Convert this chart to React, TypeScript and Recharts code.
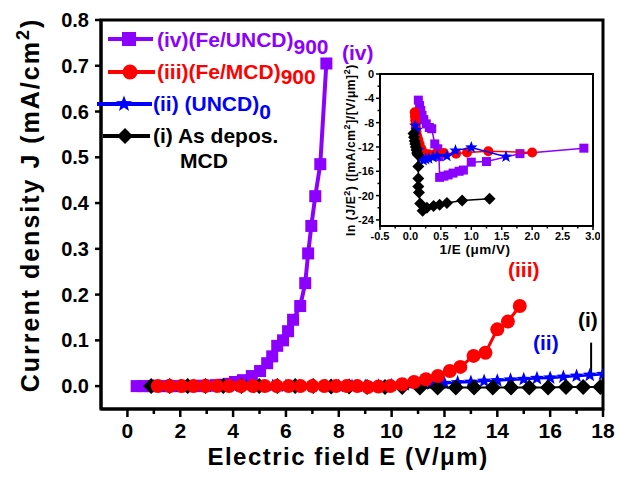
import React from 'react';
import { ScatterChart, Scatter, XAxis, YAxis, ReferenceArea, ReferenceLine } from 'recharts';

const FONT = '"Liberation Sans", Arial, Helvetica, sans-serif';
const PURPLE = '#8B00FF';
const RED = '#FF0000';
const BLUE = '#0000FF';
const BLACK = '#000000';

// main panel: J (mA/cm2) vs E (V/um)
const feUncdE = [0.35, 0.6, 0.85, 1.1, 1.35, 1.6, 1.85, 2.1, 2.35, 2.6, 2.85, 3.1, 3.35, 3.6, 3.85, 4.07, 4.37, 4.71, 5.02, 5.29, 5.48, 5.67, 5.89, 6.08, 6.27, 6.54, 6.73, 6.84, 6.96, 7.11, 7.3, 7.53];
const feUncdJ = [0, 0, 0, 0, 0, 0, 0, 0, 0, 0, 0.001, 0.001, 0.002, 0.003, 0.005, 0.009, 0.013, 0.022, 0.033, 0.05, 0.065, 0.088, 0.1, 0.12, 0.145, 0.175, 0.225, 0.29, 0.35, 0.415, 0.485, 0.705];

const feMcdE = [1.15, 1.6, 2.05, 2.5, 2.95, 3.4, 3.85, 4.3, 4.75, 5.2, 5.65, 6.1, 6.55, 7.0, 7.45, 7.9, 8.3, 8.7, 9.1, 9.5, 9.95, 10.4, 10.85, 11.3, 11.75, 12.2, 12.6, 13.1, 13.55, 14.0, 14.4, 14.85];
const feMcdJ = [0, 0, 0, 0, 0, 0, 0, 0, 0, 0, 0, 0, 0, 0, 0, 0, 0, 0, -0.002, -0.001, 0, 0.004, 0.009, 0.015, 0.022, 0.033, 0.042, 0.066, 0.073, 0.124, 0.141, 0.175];

const uncdE = [1.0, 1.5, 2.0, 2.5, 3.0, 3.5, 4.0, 4.5, 5.0, 5.5, 6.0, 6.5, 7.0, 7.5, 8.0, 8.5, 9.0, 9.5, 10.0, 10.5, 11.0, 11.5, 12.0, 12.5, 13.0, 13.5, 14.0, 14.5, 15.0, 15.5, 16.0, 16.5, 17.0, 17.5, 18.0];
const uncdJ = [0, 0, 0, 0, 0, 0, 0, 0, 0, 0, 0, 0, 0, 0, 0, 0, 0, 0.001, 0.002, 0.003, 0.004, 0.005, 0.006, 0.008, 0.009, 0.011, 0.012, 0.014, 0.015, 0.017, 0.018, 0.02, 0.022, 0.024, 0.026];

const mcdE = [0.9, 1.6, 2.28, 2.95, 3.63, 4.31, 4.99, 5.67, 6.35, 7.03, 7.71, 8.39, 9.07, 9.75, 10.4, 11.07, 11.74, 12.43, 13.12, 13.83, 14.52, 15.21, 15.92, 16.6, 17.25, 17.9];
const mcdJ = [0, 0, 0, 0, 0, 0, 0, 0, 0, 0, -0.001, -0.001, -0.002, -0.002, -0.002, -0.003, -0.003, -0.003, -0.003, -0.003, -0.003, -0.003, -0.003, -0.002, -0.002, -0.002];

// inset: ln(J/E^2) vs 1/E
const feUncdInvE = [0.13, 0.15, 0.17, 0.19, 0.22, 0.26, 0.31, 0.35, 0.4, 0.45, 0.47, 0.48, 0.55, 0.62, 0.7, 0.8, 0.87, 1.0, 1.25, 1.8, 2.85];
const feUncdLn = [-4.3, -5.2, -6.0, -6.8, -7.5, -8.2, -8.8, -9.0, -11.5, -12.3, -13.6, -17.0, -16.8, -16.6, -16.3, -16.0, -15.8, -14.5, -14.4, -13.1, -12.2];

const feMcdInvE = [0.07, 0.075, 0.08, 0.085, 0.09, 0.1, 0.11, 0.13, 0.15, 0.18, 0.22, 0.3, 0.4, 0.55, 0.75, 0.93, 1.28, 2.0];
const feMcdLn = [-6.3, -7.0, -7.6, -8.2, -8.8, -9.5, -10.2, -10.8, -11.5, -12.3, -13.0, -13.2, -13.2, -13.0, -13.1, -12.9, -12.7, -12.9];

const uncdInvE = [0.08, 0.1, 0.13, 0.17, 0.21, 0.25, 0.3, 0.37, 0.44, 0.6, 0.74, 1.0, 1.57];
const uncdLn = [-8.5, -9.2, -12.5, -13.9, -14.2, -14.0, -13.9, -13.7, -13.5, -13.5, -12.6, -12.1, -13.6];

const mcdInvE = [0.05, 0.06, 0.07, 0.08, 0.09, 0.1, 0.11, 0.12, 0.13, 0.13, 0.13, 0.14, 0.16, 0.2, 0.27, 0.38, 0.48, 0.6, 0.85, 1.3];
const mcdLn = [-9.8, -10.4, -11.0, -11.5, -12.0, -12.5, -13.0, -13.3, -15.2, -17.2, -18.5, -19.5, -21.3, -22.5, -22.0, -21.7, -21.5, -21.2, -20.8, -20.5];

const mainXTicks = [0, 1, 2, 3, 4, 5, 6, 7, 8, 9, 10, 11, 12, 13, 14, 15, 16, 17, 18];
const mainYTicks = [0, 0.1, 0.2, 0.3, 0.4, 0.5, 0.6, 0.7, 0.8];
const insetXTicks = [-0.5, -0.25, 0, 0.25, 0.5, 0.75, 1, 1.25, 1.5, 1.75, 2, 2.25, 2.5, 2.75, 3];
const insetYTicks = [0, -2, -4, -6, -8, -10, -12, -14, -16, -18, -20, -22, -24];

const zip = (xs: number[], ys: number[]) => xs.map((x, i) => ({ x, y: ys[i] }));

function starPts(cx: number, cy: number, R: number) {
  const pts: string[] = [];
  for (let i = 0; i < 10; i++) {
    const a = -Math.PI / 2 + (i * Math.PI) / 5;
    const rad = i % 2 === 0 ? R : R * 0.42;
    pts.push(`${cx + rad * Math.cos(a)},${cy + rad * Math.sin(a)}`);
  }
  return pts.join(' ');
}

const squareShape = (s: number, c: string) => (p: any) => (
  <rect x={p.cx - s / 2} y={p.cy - s / 2} width={s} height={s} fill={c} />
);
const circleShape = (r: number, c: string) => (p: any) => <circle cx={p.cx} cy={p.cy} r={r} fill={c} />;
const diamondShape = (h: number, c: string) => (p: any) => (
  <polygon points={`${p.cx},${p.cy - h} ${p.cx + h},${p.cy} ${p.cx},${p.cy + h} ${p.cx - h},${p.cy}`} fill={c} />
);
const starShape = (R: number, c: string) => (p: any) => <polygon points={starPts(p.cx, p.cy, R)} fill={c} />;

const MainXTick = (p: any) => {
  const v = p.payload.value;
  const major = v % 2 === 0;
  return (
    <g>
      <line x1={p.x} x2={p.x} y1={p.y} y2={p.y + (major ? 8 : 5)} stroke="#000" strokeWidth={2.5} />
      {major && (
        <text x={p.x} y={p.y + 29} textAnchor="middle" fontFamily={FONT} fontWeight="bold" fontSize={21} fill="#000">
          {v}
        </text>
      )}
    </g>
  );
};

const MainYTick = (p: any) => (
  <g>
    <line x1={p.x} x2={p.x - 6} y1={p.y} y2={p.y} stroke="#000" strokeWidth={2.5} />
    <text x={p.x - 12} y={p.y + 7} textAnchor="end" fontFamily={FONT} fontWeight="bold" fontSize={20} fill="#000">
      {p.payload.value.toFixed(1)}
    </text>
  </g>
);

const InsetXTick = (p: any) => {
  const v = p.payload.value;
  const major = Math.abs(v * 2 - Math.round(v * 2)) < 1e-6;
  return (
    <g>
      <line x1={p.x} x2={p.x} y1={p.y} y2={p.y + (major ? 4 : 2.5)} stroke="#000" strokeWidth={1.5} />
      {major && (
        <text x={p.x} y={p.y + 14} textAnchor="middle" fontFamily={FONT} fontWeight="bold" fontSize={11} fill="#000">
          {v.toFixed(1)}
        </text>
      )}
    </g>
  );
};

const InsetYTick = (p: any) => {
  const v = p.payload.value;
  const major = v % 4 === 0;
  return (
    <g>
      <line x1={p.x} x2={p.x - (major ? 4 : 2.5)} y1={p.y} y2={p.y} stroke="#000" strokeWidth={1.5} />
      {major && (
        <text x={p.x - 6} y={p.y + 4} textAnchor="end" fontFamily={FONT} fontWeight="bold" fontSize={11} fill="#000">
          {v}
        </text>
      )}
    </g>
  );
};

const bold = { fontFamily: FONT, fontWeight: 'bold' as const };

export default function App() {
  return (
    <div style={{ position: 'absolute', left: 0, top: 0, width: 617, height: 480, background: '#fff' }}>
      <div style={{ position: 'absolute', left: 0, top: 0 }}>
        <ScatterChart width={617} height={480} margin={{ top: 20, right: 14, bottom: 0, left: 0 }}>
          <XAxis
            type="number"
            dataKey="x"
            domain={[-1, 18]}
            ticks={mainXTicks}
            interval={0}
            tick={(p: any) => <MainXTick {...p} />}
            tickLine={false}
            tickSize={0}
            tickMargin={0}
            height={71}
            axisLine={{ stroke: '#000', strokeWidth: 3 }}
            allowDataOverflow
          />
          <YAxis
            type="number"
            dataKey="y"
            domain={[-0.05, 0.8]}
            ticks={mainYTicks}
            interval={0}
            tick={(p: any) => <MainYTick {...p} />}
            tickLine={false}
            tickSize={0}
            tickMargin={0}
            width={101}
            axisLine={{ stroke: '#000', strokeWidth: 3 }}
            allowDataOverflow
          />
          <ReferenceArea x1={-1} x2={18} y1={-0.05} y2={0.8} fill="none" stroke="#000" strokeWidth={3} ifOverflow="visible" />
          <Scatter data={zip(feUncdE, feUncdJ)} shape={squareShape(12, PURPLE)} line={{ stroke: PURPLE, strokeWidth: 4 }} lineType="joint" isAnimationActive={false} />
          <Scatter data={zip(uncdE, uncdJ)} shape={starShape(7.5, BLUE)} line={{ stroke: BLUE, strokeWidth: 2.5 }} lineType="joint" isAnimationActive={false} />
          <Scatter data={zip(mcdE, mcdJ)} shape={diamondShape(8, BLACK)} line={{ stroke: BLACK, strokeWidth: 2 }} lineType="joint" isAnimationActive={false} />
          <Scatter data={zip(feMcdE, feMcdJ)} shape={circleShape(7, RED)} line={{ stroke: RED, strokeWidth: 3 }} lineType="joint" isAnimationActive={false} />
          <ReferenceLine segment={[{ x: 17.55, y: 0.095 }, { x: 17.55, y: 0.025 }]} stroke="#000" strokeWidth={2} ifOverflow="visible" />
        </ScatterChart>
      </div>

      <div style={{ position: 'absolute', left: 336, top: 62 }}>
        <ScatterChart width={264} height={200} margin={{ top: 12, right: 7, bottom: 0, left: 0 }}>
          <XAxis
            type="number"
            dataKey="x"
            domain={[-0.5, 3]}
            ticks={insetXTicks}
            interval={0}
            tick={(p: any) => <InsetXTick {...p} />}
            tickLine={false}
            tickSize={0}
            tickMargin={0}
            height={36}
            axisLine={{ stroke: '#000', strokeWidth: 2 }}
            allowDataOverflow
          />
          <YAxis
            type="number"
            dataKey="y"
            domain={[-25, 0]}
            ticks={insetYTicks}
            interval={0}
            tick={(p: any) => <InsetYTick {...p} />}
            tickLine={false}
            tickSize={0}
            tickMargin={0}
            width={44}
            axisLine={{ stroke: '#000', strokeWidth: 2 }}
            allowDataOverflow
          />
          <ReferenceArea x1={-0.5} x2={3} y1={-25} y2={0} fill="none" stroke="#000" strokeWidth={2} ifOverflow="visible" />
          <Scatter data={zip(feUncdInvE, feUncdLn)} shape={squareShape(9, PURPLE)} line={{ stroke: PURPLE, strokeWidth: 1.5 }} lineType="joint" isAnimationActive={false} />
          <Scatter data={zip(feMcdInvE, feMcdLn)} shape={circleShape(5, RED)} line={{ stroke: RED, strokeWidth: 1.5 }} lineType="joint" isAnimationActive={false} />
          <Scatter data={zip(uncdInvE, uncdLn)} shape={starShape(6.5, BLUE)} line={{ stroke: BLUE, strokeWidth: 1.5 }} lineType="joint" isAnimationActive={false} />
          <Scatter data={zip(mcdInvE, mcdLn)} shape={diamondShape(6, BLACK)} line={{ stroke: BLACK, strokeWidth: 1.5 }} lineType="joint" isAnimationActive={false} />
        </ScatterChart>
      </div>

      <svg width={617} height={480} style={{ position: 'absolute', left: 0, top: 0, pointerEvents: 'none' }}>
        {/* axis titles */}
        <text x={39} y={205} transform="rotate(-90 39 205)" textAnchor="middle" fontSize={25} letterSpacing={2} {...bold}>
          Current density J (mA/cm<tspan fontSize={18} dy={-10}>2</tspan><tspan dy={10}>)</tspan>
        </text>
        <text x={348} y={465} textAnchor="middle" fontSize={24} letterSpacing={1.5} {...bold}>
          Electric field E (V/μm)
        </text>
        <text x={355} y={150} transform="rotate(-90 355 150)" textAnchor="middle" fontSize={12} letterSpacing={0.6} {...bold}>
          ln (J/E<tspan fontSize={9} dy={-5}>2</tspan><tspan dy={5}>) ([mA/cm</tspan><tspan fontSize={9} dy={-5}>2</tspan>
          <tspan dy={5}>]/[V/μm]</tspan><tspan fontSize={9} dy={-5}>2</tspan><tspan dy={5}>)</tspan>
        </text>
        <text x={475} y={254} textAnchor="middle" fontSize={13.5} letterSpacing={0.5} {...bold}>
          1/E (μm/V)
        </text>

        {/* legend */}
        <line x1={108} x2={153} y1={39} y2={39} stroke={PURPLE} strokeWidth={4} />
        <rect x={122} y={32} width={14} height={14} fill={PURPLE} />
        <text x={157} y={47} fontSize={21} fill={PURPLE} {...bold}>
          (iv)(Fe/UNCD)<tspan dy={7}>900</tspan>
        </text>

        <line x1={108} x2={155} y1={72} y2={72} stroke={RED} strokeWidth={4} />
        <circle cx={130} cy={72} r={7.5} fill={RED} />
        <text x={157} y={79} fontSize={21} fill={RED} {...bold}>
          (iii)(Fe/MCD)<tspan dy={5}>900</tspan>
        </text>

        <line x1={97} x2={152} y1={104} y2={104} stroke={BLUE} strokeWidth={4} />
        <polygon points={starPts(124, 104, 8.5)} fill={BLUE} />
        <text x={153} y={111} fontSize={21} fill={BLUE} {...bold}>
          (ii) (UNCD)<tspan dy={8}>0</tspan>
        </text>

        <line x1={103} x2={150} y1={136} y2={136} stroke={BLACK} strokeWidth={4} />
        <polygon points="125,128 133,136 125,144 117,136" fill={BLACK} />
        <text x={153} y={143} fontSize={21} fill={BLACK} {...bold}>
          (i) As depos.
        </text>
        <text x={180} y={168} fontSize={21} fill={BLACK} {...bold}>
          MCD
        </text>

        {/* curve labels */}
        <text x={342} y={60} fontSize={21} fill={PURPLE} {...bold}>(iv)</text>
        <text x={508} y={277} fontSize={21} fill={RED} {...bold}>(iii)</text>
        <text x={533} y={350} fontSize={21} fill={BLUE} {...bold}>(ii)</text>
        <text x={578} y={327} fontSize={21} fill={BLACK} {...bold}>(i)</text>
      </svg>
    </div>
  );
}
